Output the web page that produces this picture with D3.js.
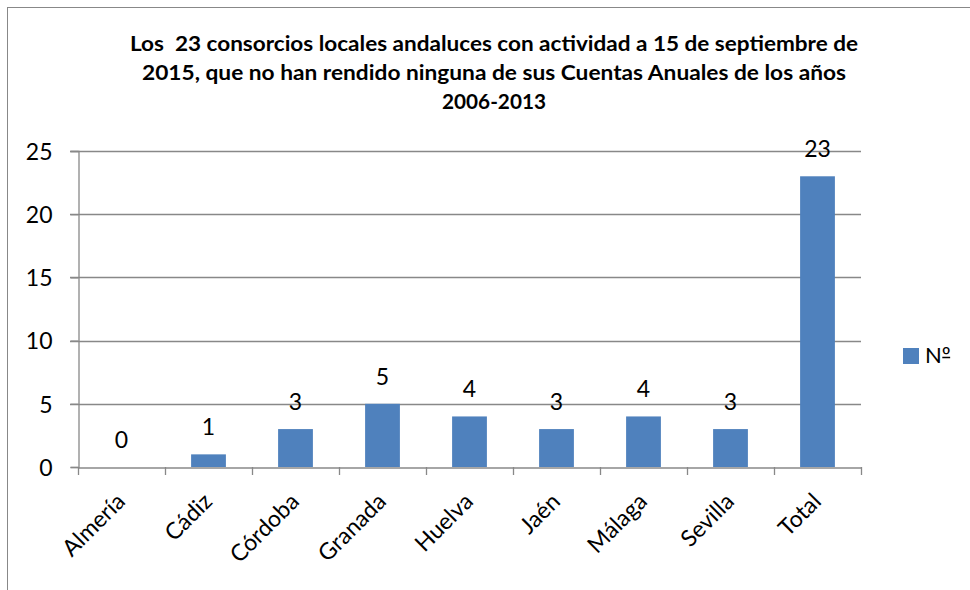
<!DOCTYPE html>
<html><head><meta charset="utf-8">
<script src="https://cdn.jsdelivr.net/npm/d3@7"></script>
<style>body{margin:0;background:#fff}svg{display:block}text{font-family:Lato,"Open Sans",sans-serif;white-space:pre}</style>
</head><body>
<script>
const categories = ["Almería","Cádiz","Córdoba","Granada","Huelva","Jaén","Málaga","Sevilla","Total"];
const values = [0,1,3,5,4,3,4,3,23];
const yTicks = [0,5,10,15,20,25];
const seriesName = "Nº";
const titleLines = ["Los  23 consorcios locales andaluces con actividad a 15 de septiembre de",
  "2015, que no han rendido ninguna de sus Cuentas Anuales de los años","2006-2013"];
const titleWidths = [728,704,104];

const W=970,H=590;
const svg=d3.select("body").append("svg").attr("width",W).attr("height",H);
svg.append("rect").attr("x",7.5).attr("y",7.5).attr("width",970).attr("height",600)
  .attr("fill","#fff").attr("stroke","#888").attr("stroke-width",1);

const m={l:78,r:861,t:151,b:467};
const x=d3.scaleBand().domain(categories).range([m.l,m.r]).paddingInner(0.6).paddingOuter(0.3);
const xb=d3.scaleBand().domain(categories).range([m.l,m.r]);
const y=d3.scaleLinear().domain([0,25]).range([m.b,m.t]);

// title
svg.append("g").selectAll("text").data(titleLines).join("text")
  .attr("x",494).attr("y",(d,i)=>51+i*29).attr("text-anchor","middle")
  .attr("textLength",(d,i)=>titleWidths[i]).attr("lengthAdjust","spacingAndGlyphs")
  .attr("font-weight","bold").attr("font-size",20).attr("fill","#000").text(d=>d);

// gridlines
svg.append("g").selectAll("line").data(yTicks.filter(d=>d>0)).join("line")
  .attr("x1",m.l-8).attr("x2",m.r).attr("y1",d=>Math.round(y(d))+0.5).attr("y2",d=>Math.round(y(d))+0.5)
  .attr("stroke","#888").attr("stroke-width",1.3);

// y axis
const ya=svg.append("g").attr("transform",`translate(${m.l+0.5},0)`)
  .call(d3.axisLeft(y).tickValues(yTicks).tickSize(8).tickPadding(18));
ya.select(".domain").attr("stroke","#888").attr("stroke-width",1.3);
ya.selectAll(".tick line").attr("stroke","#888").attr("stroke-width",1.3);
ya.selectAll(".tick text").attr("font-size",23).attr("fill","#000").attr("dy","0.36em")
  .style("font-family","Lato,'Open Sans',sans-serif");

// bars
svg.append("g").selectAll("rect").data(values).join("rect")
  .attr("x",(d,i)=>x(categories[i])).attr("width",x.bandwidth())
  .attr("y",d=>y(d)).attr("height",d=>y(0)-y(d)).attr("fill","#4F81BD");

// x axis
const xa=svg.append("g").attr("transform",`translate(0,${m.b+0.5})`)
  .call(d3.axisBottom(xb).tickSize(0).tickFormat(""));
xa.select(".domain").attr("stroke","#888").attr("stroke-width",1.3);
svg.append("g").selectAll("line").data(d3.range(categories.length+1)).join("line")
  .attr("x1",i=>Math.round(m.l+i*xb.step())+0.5).attr("x2",i=>Math.round(m.l+i*xb.step())+0.5)
  .attr("y1",m.b).attr("y2",m.b+8).attr("stroke","#888").attr("stroke-width",1.3);

// x labels
svg.append("g").selectAll("text").data(categories).join("text")
  .attr("transform",d=>`translate(${xb(d)+xb.bandwidth()/2+5},${m.b+36}) rotate(-45)`)
  .attr("text-anchor","end").attr("font-size",23).attr("fill","#000").text(d=>d);

// data labels
svg.append("g").selectAll("text").data(values).join("text")
  .attr("x",(d,i)=>x(categories[i])+x.bandwidth()/2).attr("y",d=>y(d)-19)
  .attr("text-anchor","middle").attr("font-size",23).attr("fill","#000").text(d=>d);

// legend
svg.append("rect").attr("x",903).attr("y",348).attr("width",16).attr("height",16).attr("fill","#4F81BD");
const lt=svg.append("text").attr("x",925).attr("y",363).attr("font-size",22).attr("fill","#000").text(seriesName);
const tn=lt.node();
const ox=925+tn.getSubStringLength(0,1), ow=tn.getSubStringLength(1,1);
svg.append("line").attr("x1",ox+0.5).attr("x2",ox+ow-0.5).attr("y1",357.5).attr("y2",357.5)
  .attr("stroke","#000").attr("stroke-width",1.5);
</script>
</body></html>
